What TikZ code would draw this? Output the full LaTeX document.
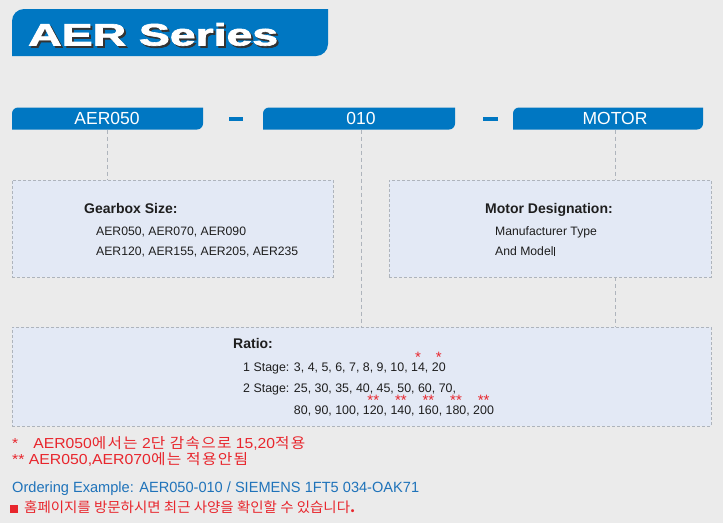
\documentclass[tikz,border=0pt]{standalone}
\usepackage{fontspec}
\setmainfont{Liberation Sans}
\newfontface\titlefont[FakeBold=2]{Liberation Sans Bold}
\newfontfamily\kr{Noto Sans CJK KR}
\newfontfamily\krs[LetterSpace=8]{Noto Sans CJK KR}
\definecolor{bg}{HTML}{EBEBEB}
\definecolor{tabblue}{HTML}{0077C2}
\definecolor{boxfill}{HTML}{E3E9F5}
\definecolor{boxline}{HTML}{AEB4BC}
\definecolor{redtxt}{HTML}{E8262D}
\definecolor{bluetxt}{HTML}{1F73BA}
\definecolor{txt}{HTML}{1E1E1E}
\newcommand\tabpath[4]{\fill[tabblue] (#1,-#4) -- (#1,-#3-6) arc[start angle=180,end angle=90,radius=6] -- (#2,-#3) -- (#2,-#4+6) arc[start angle=0,end angle=-90,radius=6] -- cycle;}
\newcommand\stn[2]{\begingroup\setbox0\hbox{#2}\rlap{\hbox to \wd0{\hss\raisebox{8.5pt}[0pt][0pt]{\textcolor{redtxt}{\fontsize{15}{15}\selectfont#1}}\hss}}\box0\endgroup}
\tikzset{
  tabtext/.style={text=white,font=\fontsize{17.5}{17.5}\selectfont,minimum height=22pt,inner sep=0pt},
  infobox/.style={draw=boxline,dash pattern=on 3pt off 2pt,fill=boxfill,line width=0.8pt,inner sep=0pt},
  conn/.style={draw=boxline,dash pattern=on 4pt off 3pt,line width=0.8pt},
  head/.style={anchor=base west,inner sep=0pt,text=txt,font=\bfseries\fontsize{14}{14}\selectfont},
  body/.style={anchor=base west,inner sep=0pt,text=txt,font=\fontsize{12.2}{12.2}\selectfont},
  ratiotext/.style={anchor=base west,inner sep=0pt,text=txt,font=\fontsize{12.4}{12.4}\selectfont},
  note/.style={anchor=base west,inner sep=0pt,font=\fontsize{14.5}{14.5}\selectfont}
}
\begin{document}
\begin{tikzpicture}[x=1pt,y=1pt]
\fill[bg] (0,0) rectangle (723,-523);
\useasboundingbox (0,0) rectangle (723,-523);
% title banner
\fill[tabblue] (12,-56) -- (12,-21) arc[start angle=180,end angle=90,radius=12] -- (328,-9) -- (328,-44) arc[start angle=0,end angle=-90,radius=12] -- cycle;
\node[anchor=base west,inner sep=0pt,text=black!80,font=\titlefont\fontsize{31}{31}\selectfont] (titleshadow) at (30,-47.5) {\resizebox{250pt}{\height}{AER Series}};
\node[anchor=base west,inner sep=0pt,text=white,font=\titlefont\fontsize{31}{31}\selectfont] (title) at (28,-45.5) {\resizebox{250pt}{\height}{AER Series}};
% tabs
\tabpath{12}{203}{107.5}{129.5}
\tabpath{263}{455}{107.5}{129.5}
\tabpath{513}{703}{107.5}{129.5}
\fill[tabblue] (229,-117) rectangle (243,-121);
\fill[tabblue] (483,-117) rectangle (498,-121);
\node[tabtext] (t1) at (107,-118.5) {AER050};
\node[tabtext] (t2) at (361,-118.5) {010};
\node[tabtext] (t3) at (615,-118.5) {MOTOR};
% boxes
\node[infobox,minimum width=321pt,minimum height=97pt] (b1) at (172.5,-228.5) {};
\node[infobox,minimum width=322pt,minimum height=97pt] (b2) at (550,-228.5) {};
\node[infobox,minimum width=699pt,minimum height=99pt] (b3) at (361.5,-376.5) {};
% connectors
\draw[conn] (t1.south) -- (t1.south |- b1.north);
\draw[conn] (t2.south) -- (t2.south |- b3.north);
\draw[conn] (t3.south) -- (t3.south |- b2.north);
\draw[conn] (t3.south |- b2.south) -- (t3.south |- b3.north);
% box 1 text
\node[head] (g0) at (84,-213) {Gearbox Size:};
\node[body] (g1) at (96,-235.5) {AER050, AER070, AER090};
\node[body] (g2) at (96,-255.5) {AER120, AER155, AER205, AER235};
% box 2 text
\node[head] (m0) at (485,-213) {Motor Designation:};
\node[body] (m1) at (495,-235.5) {Manufacturer Type};
\node[body] (m2) at (495,-255.5) {And Model\rule{1.8pt}{9pt}};
% ratio text
\node[head] (r0) at (233,-348) {Ratio:};
\node[ratiotext] (r1) at (243,-371) {1 Stage: 3, 4, 5, 6, 7, 8, 9, 10, \stn{*}{14}, \stn{*}{20}};
\node[ratiotext] (r2) at (243,-392) {2 Stage: 25, 30, 35, 40, 45, 50, 60, 70,};
\node[ratiotext] (r3) at (243,-414) {\phantom{2 Stage: }80, 90, 100, \stn{**}{120}, \stn{**}{140}, \stn{**}{160}, \stn{**}{180}, \stn{**}{200}};
% notes
\node[note,text=redtxt] (n1) at (12,-448) {\resizebox{293pt}{\height}{*\hspace{14pt}AER050{\krs 에서는} 2{\krs 단 감속으로} 15,20{\krs 적용}}};
\node[note,text=redtxt] (n2) at (12,-464) {\resizebox{236pt}{\height}{** AER050,AER070{\krs 에는 적용안됨}}};
\node[note,text=bluetxt,font=\fontsize{14.8}{14.8}\selectfont] (n3) at (12,-492) {\resizebox{407pt}{\height}{Ordering Example: AER050-010 / SIEMENS 1FT5 034-OAK71}};
\fill[redtxt] (10,-504.5) rectangle (18,-512.5);
\node[note,text=redtxt,font=\kr\fontsize{14}{14}\selectfont] (n4) at (24,-512) {\resizebox{331pt}{\height}{홈페이지를 방문하시면 최근 사양을 확인할 수 있습니다\textbf{.}}};
\end{tikzpicture}
\end{document}
